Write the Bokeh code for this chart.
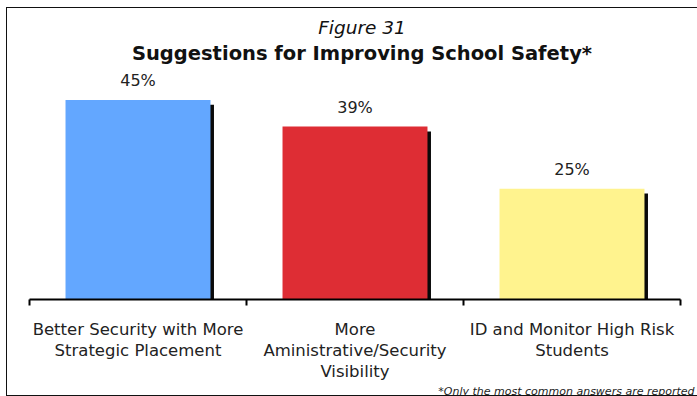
from bokeh.plotting import figure
from bokeh.models import (Range1d, FixedTicker, LabelSet, ColumnDataSource,
                          Title, InlineStyleSheet)
from bokeh.core.properties import value
from bokeh.embed import file_html
from bokeh.resources import INLINE

categories = ["Better Security with More\nStrategic Placement",
              "More\nAministrative/Security\nVisibility",
              "ID and Monitor High Risk\nStudents"]
values = [45, 39, 25]
value_labels = ["45%", "39%", "25%"]
colors = ["#63A7FF", "#DE2D34", "#FFF38E"]
title_top = "Figure 31"
title_main = "Suggestions for Improving School Safety*"
footnote = "*Only the most common answers are reported"

W, H = 697, 396
left, right, top, bottom = 29, 3, 66, 92
px_per_x = (680 - left) / 3.0
frame_w = W - left - right
frame_h = H - top - bottom
px_per_pct = 4.53
ymax = frame_h / px_per_pct
xmax = frame_w / px_per_x

xs = [i + 0.5 for i in range(len(values))]
shadow_dx = 3.5 / px_per_x
shadow_dy = 5 / px_per_pct

src = ColumnDataSource(dict(x=xs, v=values, lab=value_labels, c=colors,
                            sx=[x + shadow_dx for x in xs],
                            sv=[v - shadow_dy for v in values]))

p = figure(width=W, height=H, output_backend="svg", toolbar_location=None,
           x_range=Range1d(0, xmax), y_range=Range1d(0, ymax),
           min_border_left=left, min_border_right=right,
           min_border_top=top, min_border_bottom=bottom)
p.outline_line_color = None
p.grid.visible = False
p.yaxis.visible = False

p.vbar(x="sx", top="sv", bottom=0, width=0.668, source=src,
       fill_color="#0a0a0a", line_color=None)
p.vbar(x="x", top="v", bottom=0, width=0.668, source=src,
       fill_color="c", line_color=None)

p.add_layout(LabelSet(x="x", y="v", text="lab", source=src, y_offset=10,
                      text_align="center", text_baseline="bottom",
                      text_font=value("DejaVu Sans"), text_font_size="16px",
                      text_color="#222222"))

ax = p.xaxis[0]
ax.bounds = (0, 3)
ax.ticker = FixedTicker(ticks=xs, minor_ticks=[0, 1, 2, 3])
ax.major_label_overrides = {x: c for x, c in zip(xs, categories)}
ax.major_tick_line_color = None
ax.minor_tick_in = 0
ax.minor_tick_out = 6
ax.minor_tick_line_color = "black"
ax.minor_tick_line_width = 2
ax.axis_line_color = "black"
ax.axis_line_width = 2
ax.major_label_text_font = "DejaVu Sans"
ax.major_label_text_font_size = "16.5px"
ax.major_label_text_color = "#222222"
ax.major_label_standoff = 14
ax.major_label_text_line_height = 1.13

p.add_layout(Title(text=footnote, align="right", standoff=-3,
                   text_font="DejaVu Sans", text_font_style="italic",
                   text_font_size="11px", text_color="#222222"), "below")

p.add_layout(Title(text=title_main, align="center",
                   text_font="DejaVu Sans", text_font_style="bold",
                   text_font_size="19.5px", text_color="#111111",
                   standoff=4), "above")
p.add_layout(Title(text=title_top, align="center",
                   text_font="DejaVu Sans", text_font_style="italic",
                   text_font_size="18.5px", text_color="#111111",
                   standoff=0), "above")

p.stylesheets = [InlineStyleSheet(css="""
:host { position: relative; overflow: hidden; }
:host::after { content: ''; position: absolute; left: 6px; top: 7px;
  width: 720px; height: 389px; box-sizing: border-box;
  border: 1.5px solid #111; pointer-events: none; z-index: 10; }
""")]

open("out.html", "w").write(file_html(p, INLINE))
